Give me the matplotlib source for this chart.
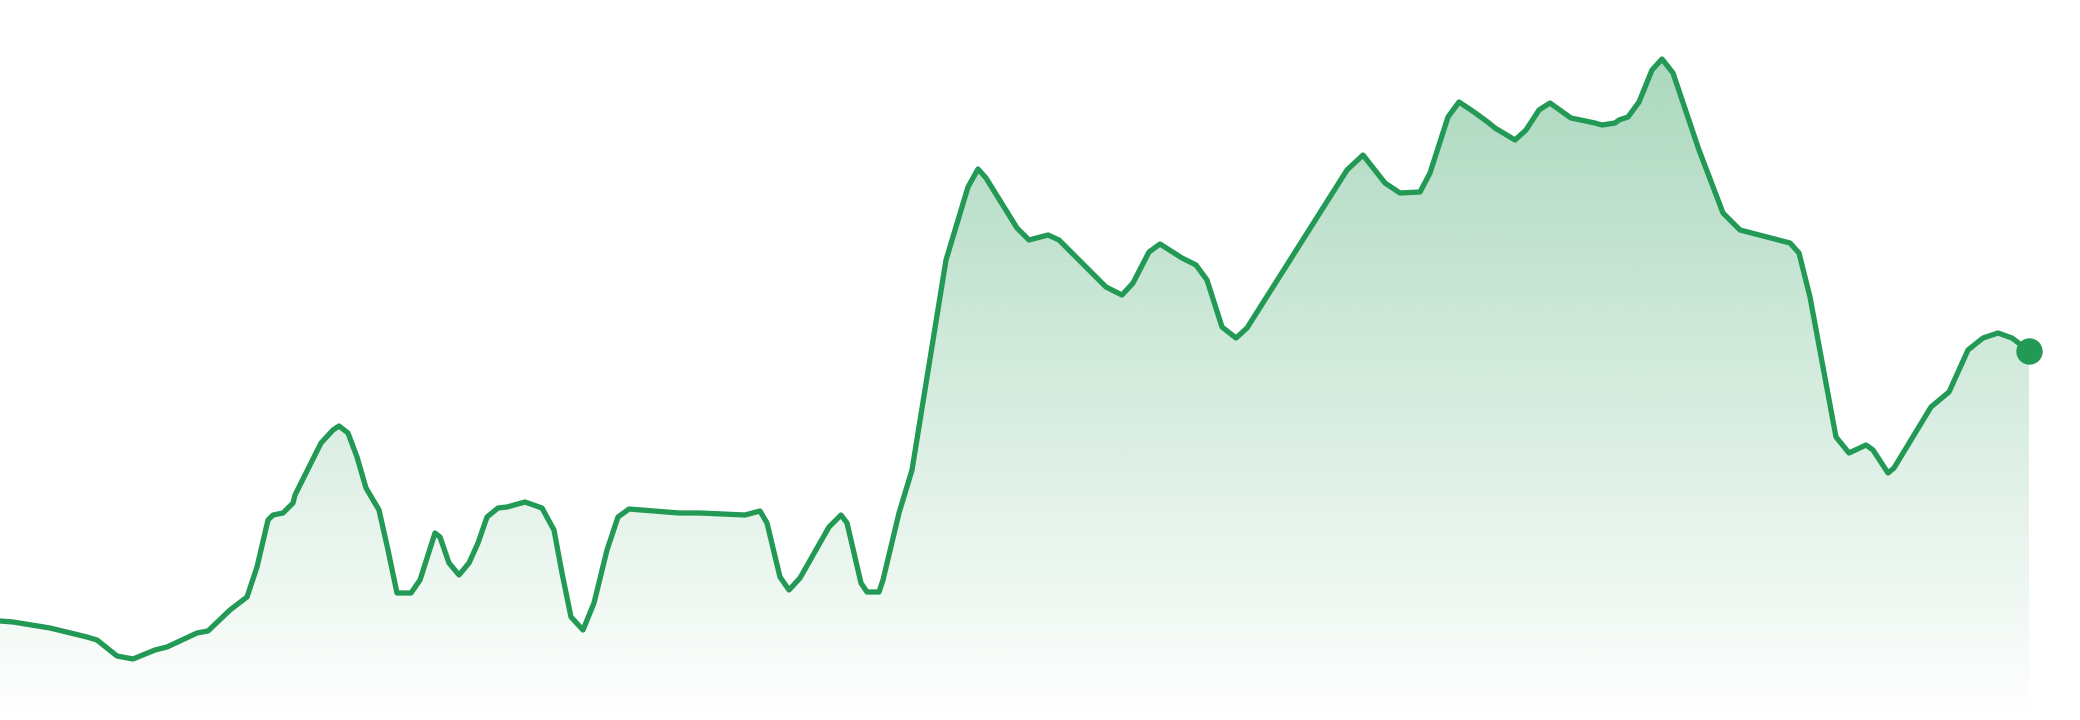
import numpy as np
import matplotlib.pyplot as plt
from matplotlib.colors import to_rgb

# Serie (tiempo, valor)
t = np.array([0, 1.3, 5.0, 8.7, 9.7, 11.7, 13.3, 15.5, 16.7, 19.7, 20.8, 23.0, 24.7, 25.7,
              26.8, 27.3, 28.3, 29.3, 29.5, 32.1, 33.3, 33.9, 34.8, 35.7, 36.6, 37.9,
              38.8, 39.7, 41.1, 42.0, 43.5, 44.0, 44.9, 45.9, 46.9, 47.8, 48.7, 49.8,
              50.7, 52.5, 54.2, 55.4, 56.2, 57.1, 58.3, 59.4, 60.7, 61.8, 62.9, 67.9,
              70.0, 74.5, 76.0, 76.7, 78.0, 78.9, 80.0, 82.9, 84.1, 84.7, 86.1, 86.7,
              87.9, 88.3, 89.9, 90.5, 91.2, 94.6, 96.8, 97.8, 98.6, 101.7, 102.9, 104.8,
              105.9, 110.6, 112.2, 113.3, 114.9, 116.0, 118.2, 119.6, 120.7, 122.2,
              123.6, 124.7, 134.7, 136.3, 138.5, 140.0, 142.0, 143.0, 144.8, 145.9,
              147.4, 148.9, 149.5, 151.5, 152.6, 153.9, 155.0, 157.1, 159.5, 160.2,
              161.5, 161.9, 162.8, 163.9, 165.2, 166.2, 167.3, 169.9, 172.3, 174.0,
              179.0, 179.9, 181.0, 183.6, 184.9, 186.6, 187.3, 188.8, 189.4, 193.1,
              194.9, 196.8, 198.3, 199.8, 201.2, 202.9])
valor = np.array([9.9, 9.8, 9.2, 8.3, 8.0, 6.4, 6.1, 7.0, 7.3, 8.7, 8.9, 11.0, 12.3, 15.3,
                  20.0, 20.5, 20.7, 21.7, 22.5, 27.7, 29.0, 29.4, 28.7, 26.3, 23.2, 21.0,
                  17.0, 12.7, 12.7, 14.0, 18.7, 18.3, 15.7, 14.5, 15.7, 17.7, 20.3, 21.2,
                  21.3, 21.8, 21.2, 19.0, 14.7, 10.3, 9.0, 11.7, 17.0, 20.3, 21.1, 20.7,
                  20.7, 20.5, 20.9, 19.7, 14.3, 13.0, 14.2, 19.3, 20.5, 19.7, 13.7, 12.8,
                  12.8, 14.0, 20.7, 22.7, 25.0, 46.0, 53.3, 55.1, 54.2, 49.2, 48.0, 48.5,
                  48.0, 43.3, 42.5, 43.7, 46.8, 47.6, 46.2, 45.5, 44.0, 39.3, 38.2, 39.2,
                  55.0, 56.5, 53.7, 52.7, 52.8, 54.7, 60.3, 61.8, 60.8, 59.7, 59.2, 58.0,
                  59.0, 61.0, 61.7, 60.2, 59.7, 59.5, 59.7, 60.0, 60.3, 61.8, 65.0, 66.1,
                  64.7, 57.0, 50.7, 49.0, 47.7, 46.7, 42.3, 28.3, 26.7, 27.5, 27.0, 24.7,
                  25.2, 31.3, 32.8, 37.0, 38.2, 38.7, 38.2, 36.9])

color = '#229954'

fig = plt.figure(figsize=(20.8, 7.2), dpi=100)
ax = fig.add_axes([0, 0, 1, 1])
ax.set_xlim(0, 208)
ax.set_ylim(0, 72)
ax.axis('off')

# Relleno con degradado vertical
poly = ax.fill_between(t, valor, 0, color='none')
top = valor.max()
rgb = to_rgb(color)
grad = np.zeros((256, 1, 4))
grad[:, 0, :3] = rgb
grad[:, 0, 3] = np.linspace(0.38, 0.0, 256)
img = ax.imshow(grad, extent=[t[0], t[-1], 0, top], origin='upper',
                aspect='auto', interpolation='bilinear', zorder=1)
img.set_clip_path(poly.get_paths()[0], transform=ax.transData)

ax.plot(t, valor, color=color, linewidth=3.8, solid_joinstyle='round',
        solid_capstyle='round', zorder=2)
ax.plot(t[-1], valor[-1], 'o', color=color, markersize=18, zorder=3)

fig.savefig('out.png', dpi=100)
